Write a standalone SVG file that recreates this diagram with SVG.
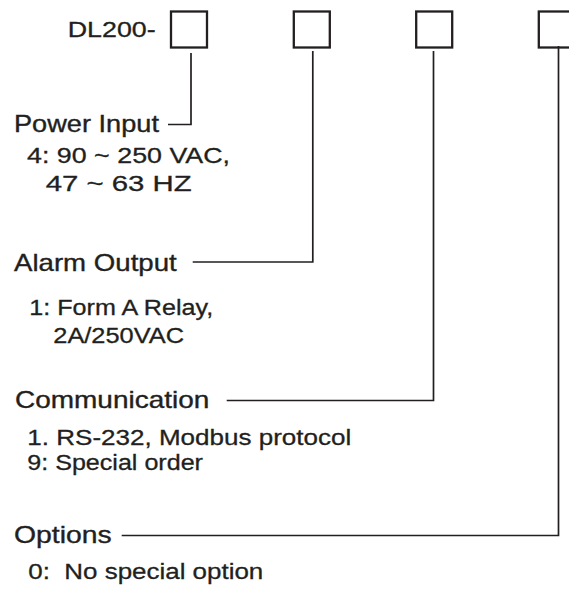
<svg xmlns="http://www.w3.org/2000/svg" width="569" height="589" viewBox="0 0 569 589">
<style>
.bx{fill:#fff;stroke:#231f20;stroke-width:2.3}
.ln{fill:none;stroke:#231f20;stroke-width:1.7}
.h{font-family:"Liberation Sans",Arial,sans-serif;font-size:23px;fill:#231f20;stroke:#231f20;stroke-width:0.35}
.t{font-family:"Liberation Sans",Arial,sans-serif;font-size:22px;fill:#231f20;stroke:#231f20;stroke-width:0.3}
</style>
<rect width="569" height="589" fill="#fff"/>
<g id="code">
<text class="t" transform="translate(67.7,37) scale(1.2,1)" textLength="73.3" lengthAdjust="spacingAndGlyphs">DL200-</text>
</g>
<g id="box1"><rect class="bx" x="171" y="11.5" width="36" height="36"/></g>
<g id="box2"><rect class="bx" x="293.8" y="11.5" width="36" height="36"/></g>
<g id="box3"><rect class="bx" x="416.2" y="11.5" width="36" height="36"/></g>
<g id="box4"><rect class="bx" x="538.8" y="11.5" width="36" height="36"/></g>
<g id="connectors">
<polyline class="ln" points="191,53 191,124.5 168,124.5"/>
<polyline class="ln" points="312.8,51 312.8,262 192.7,262"/>
<polyline class="ln" points="433.5,51 433.5,400.5 226.7,400.5"/>
<polyline class="ln" points="558.5,46 558.5,535.5 121.7,535.5"/>
</g>
<g id="power">
<text class="h" transform="translate(14,131.5) scale(1.2,1)" textLength="120.8" lengthAdjust="spacingAndGlyphs">Power Input</text>
<text class="t" transform="translate(27,162.5) scale(1.2,1)" textLength="169.2" lengthAdjust="spacingAndGlyphs">4: 90 ~ 250 VAC,</text>
<text class="t" transform="translate(45.7,191) scale(1.2,1)" textLength="121.7" lengthAdjust="spacingAndGlyphs">47 ~ 63 HZ</text>
</g>
<g id="alarm">
<text class="h" transform="translate(14,270.7) scale(1.2,1)" textLength="135.6" lengthAdjust="spacingAndGlyphs">Alarm Output</text>
<text class="t" transform="translate(29.3,315) scale(1.2,1)" textLength="153.3" lengthAdjust="spacingAndGlyphs">1: Form A Relay,</text>
<text class="t" transform="translate(53.3,343.3) scale(1.2,1)" textLength="108.9" lengthAdjust="spacingAndGlyphs">2A/250VAC</text>
</g>
<g id="comm">
<text class="h" transform="translate(15,408.3) scale(1.2,1)" textLength="161.9" lengthAdjust="spacingAndGlyphs">Communication</text>
<text class="t" transform="translate(27.3,445) scale(1.2,1)" textLength="270" lengthAdjust="spacingAndGlyphs">1. RS-232, Modbus protocol</text>
<text class="t" transform="translate(27.3,470) scale(1.2,1)" textLength="146.4" lengthAdjust="spacingAndGlyphs">9: Special order</text>
</g>
<g id="options">
<text class="h" transform="translate(14,543) scale(1.2,1)" textLength="81.4" lengthAdjust="spacingAndGlyphs">Options</text>
<text class="t" transform="translate(28.3,579) scale(1.2,1)" textLength="195.8" lengthAdjust="spacingAndGlyphs" xml:space="preserve">0:  No special option</text>
</g>
</svg>
